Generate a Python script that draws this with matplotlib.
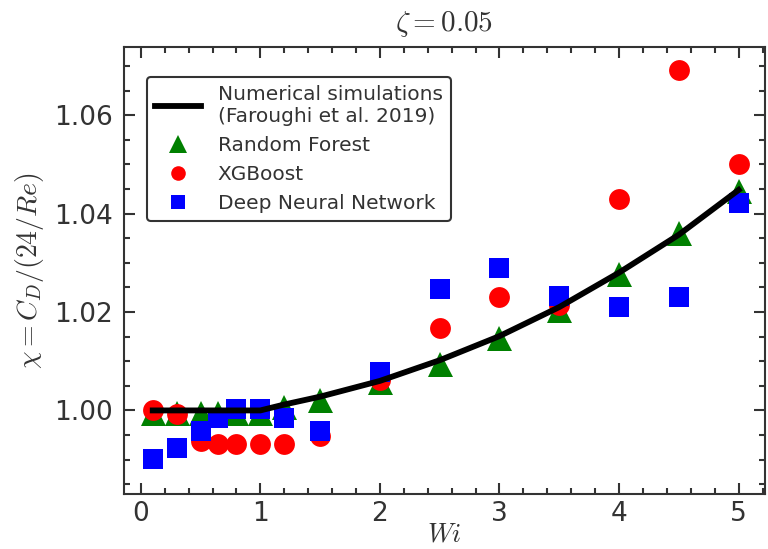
import matplotlib
matplotlib.use('Agg')
import matplotlib.pyplot as plt
from matplotlib.ticker import MultipleLocator

plt.rcParams['mathtext.fontset'] = 'cm'

# numerical simulations (Faroughi et al. 2019)
wiLine = [0.1, 0.3, 0.5, 0.65, 0.8, 1.0, 1.2, 1.5, 2, 2.5, 3, 3.5, 4, 4.5, 5]
chiLine = [1.0, 1.0, 1.0, 1.0, 1.0, 1.0, 1.0012, 1.0028, 1.006, 1.0102, 1.0151,
           1.021, 1.028, 1.0357, 1.0448]

wiPts = [0.1, 0.3, 0.5, 0.65, 0.8, 1.0, 1.2, 1.5, 2, 2.5, 3, 3.5, 4, 4.5, 5]
chiRF = [0.9995, 0.9995, 0.9995, 0.9995, 0.9995, 0.9995, 1.0006, 1.0022, 1.0057,
         1.0095, 1.0147, 1.0205, 1.0277, 1.036, 1.0446]
chiXGB = [1.0, 0.9993, 0.9937, 0.9932, 0.9932, 0.9932, 0.9932, 0.9948, 1.0062,
          1.0168, 1.023, 1.0214, 1.043, 1.0692, 1.05]
chiDNN = [0.9901, 0.9924, 0.9958, 0.9984, 1.0003, 1.0002, 0.9985, 0.9958, 1.0079,
          1.0247, 1.029, 1.0233, 1.0211, 1.023, 1.0421]

fig = plt.figure(figsize=(7.68, 5.49), dpi=100)
ax = fig.add_axes([0.1615, 0.100, 0.8345, 0.814])

ax.plot(wiLine, chiLine, color='black', lw=4.2, zorder=5,
        label='Numerical simulations\n(Faroughi et al. 2019)')
ax.plot(wiPts, chiRF, '^', color='green', ms=18, mew=0, zorder=2, label='Random Forest')
ax.plot(wiPts, chiXGB, 'o', color='red', ms=15, mew=0, zorder=3, label='XGBoost')
ax.plot(wiPts, chiDNN, 's', color='blue', ms=15, mew=0, zorder=4, label='Deep Neural Network')

ax.set_xlim(-0.14, 5.22)
ax.set_ylim(0.983, 1.0738)
ax.set_xticks([0, 1, 2, 3, 4, 5])
ax.set_yticks([1.00, 1.02, 1.04, 1.06])
ax.set_yticklabels(['1.00', '1.02', '1.04', '1.06'])
ax.xaxis.set_minor_locator(MultipleLocator(0.2))
ax.yaxis.set_minor_locator(MultipleLocator(0.005))
ax.tick_params(which='both', direction='in', top=True, right=True, colors='#333333',
               labelsize=19, width=1.5)
ax.tick_params(which='major', length=8, pad=8)
ax.tick_params(axis='x', which='major', pad=5)
ax.tick_params(which='minor', length=4)
for s in ax.spines.values():
    s.set_color('#333333')
    s.set_linewidth(1.5)

ax.set_xlabel('$Wi$', fontsize=19, color='#333333')
ax.xaxis.set_label_coords(0.5, -0.062)
ax.set_ylabel('$\\chi = C_D/(24/Re)$', fontsize=20, color='#333333', labelpad=6)
ax.set_title('$\\zeta = 0.05$', fontsize=21, color='#333333', pad=12)

leg = ax.legend(loc='upper left', bbox_to_anchor=(0.036, 0.933), borderaxespad=0,
                fontsize=14.5, markerscale=0.7, handlelength=2.3,
                frameon=True, fancybox=True, edgecolor='#333333', framealpha=1)
leg.get_frame().set_linewidth(1.5)
for t in leg.get_texts():
    t.set_color('#333333')

fig.savefig('out.png', dpi=100)
